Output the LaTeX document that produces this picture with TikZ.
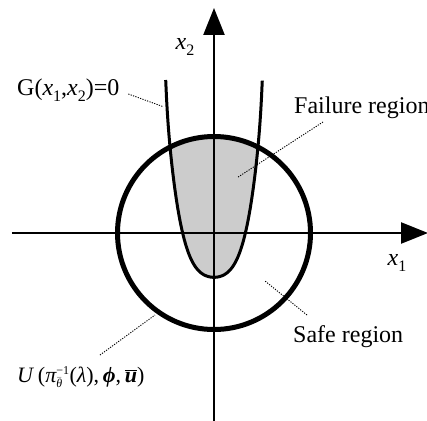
\documentclass[tikz,border=0pt]{standalone}
\usepackage{fontspec}
\setmainfont{Liberation Serif}
\usetikzlibrary{arrows.meta}
\newcommand\lsub[1]{\raisebox{-0.25em}{\fontsize{16}{16}\selectfont\upshape #1}}
\begin{document}
\begin{tikzpicture}[x=1pt,y=1pt,
  axis/.style={line width=2.5pt,-{Triangle[length=27pt,width=21pt]}},
  curve/.style={line width=3pt},
  ring/.style={line width=5pt},
  leader/.style={line width=0.9pt,dash pattern=on 1.2pt off 1.3pt},
  lbl/.style={font=\fontsize{24}{26}\selectfont,inner sep=0pt}]
\useasboundingbox (-214,-187) rectangle (213,233);
\def\parab{plot[domain=-1:1,samples=121,variable=\s] ({48.3*\s},{-44.3+52.3*(\s*\s)+125*(\s*\s)^2+20*abs(\s)^30})}
\begin{scope}
  \clip (0,0) circle (96.5);
  \fill[black!20] \parab -- cycle;
\end{scope}
\coordinate (xs) at (-202,0);
\coordinate (xe) at (214,0);
\coordinate (ys) at (0,-190);
\coordinate (ye) at (0,225);
\draw[axis] (xs) -- (xe);
\draw[axis] (ys) -- (ye);
\draw[curve] \parab;
\draw[ring] (0,0) circle (96.5);
\node[lbl] (x2) at (-29,186) {\itshape x\lsub{2}};
\node[lbl] (x1) at (183,-30) {\itshape x\lsub{1}};
\node[lbl,anchor=west] (g) at (-197,143) {G(\textit{x}\lsub{1},\textit{x}\lsub{2})=0};
\node[lbl,anchor=west] (fail) at (80,125) {Failure region};
\node[lbl,anchor=west] (safe) at (79,-104) {Safe region};
\node[lbl,anchor=west,font=\fontsize{22}{24}\selectfont] (u) at (-197,-144)
  {\itshape U\/\upshape\,($\hbox{\itshape π}^{\hbox{\fontsize{12}{12}\selectfont −1}}_{\hbox{\fontsize{12}{12}\selectfont $\bar{\hbox{\itshape θ}}$}}$(\itshape λ\upshape),\,\textbf{\textit{ϕ}},\,$\overline{\hbox{\bfseries\itshape u}}$)};
\coordinate (ga) at (-85.7,139);
\coordinate (gb) at (-50.7,126.3);
\coordinate (fa) at (109,111);
\coordinate (fb) at (23.7,55.7);
\coordinate (sa) at (93,-82);
\coordinate (sb) at (51,-48);
\coordinate (ua) at (-114,-122);
\coordinate (ub) at (-59,-82);
\draw[leader] (ga) -- (gb);
\draw[leader] (fa) -- (fb);
\draw[leader] (sa) -- (sb);
\draw[leader] (ua) -- (ub);
\end{tikzpicture}
\end{document}
